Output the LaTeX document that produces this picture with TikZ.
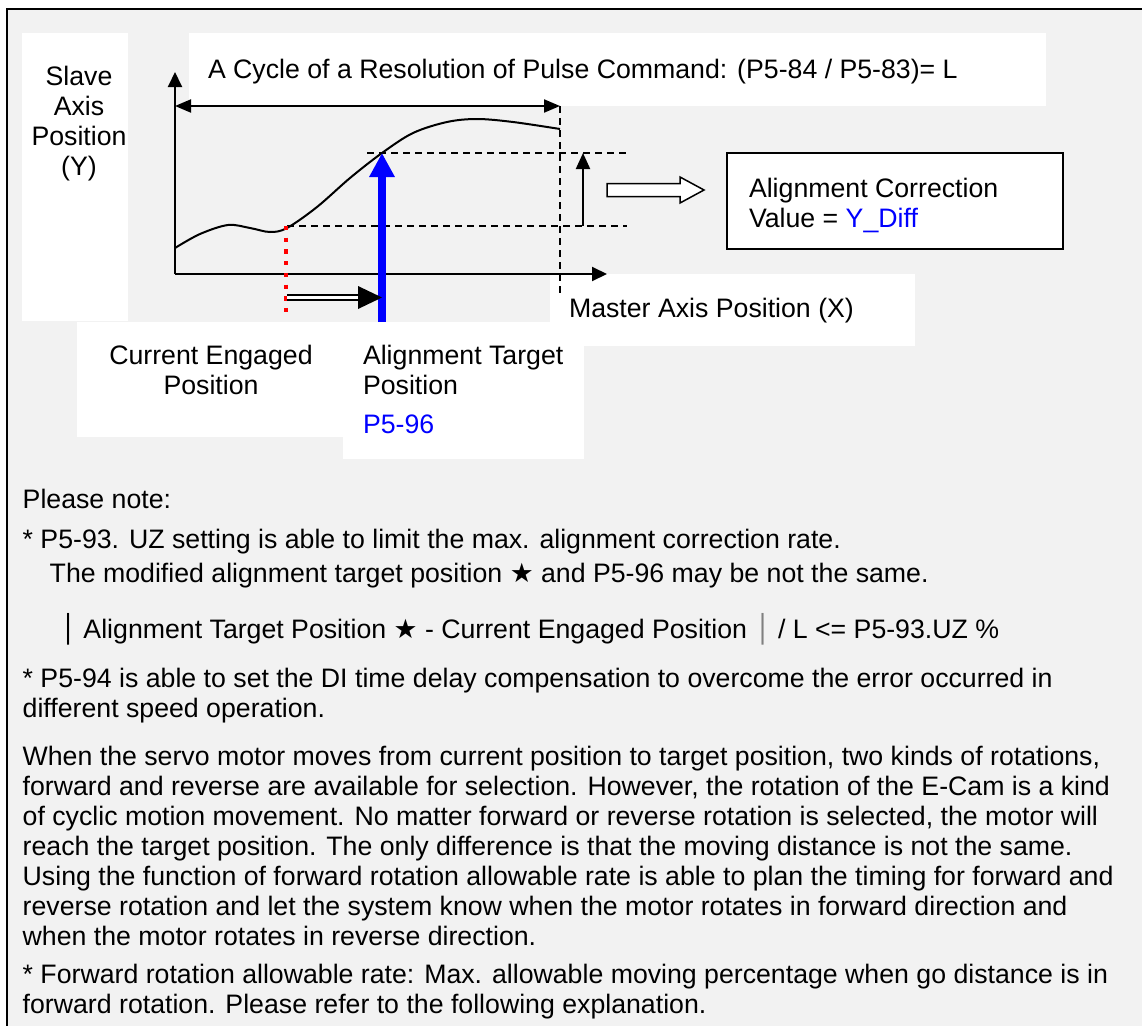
\documentclass[tikz,border=0pt]{standalone}
\usepackage{fontspec}
\setmainfont{Liberation Sans}
\newfontfamily\symfont{DejaVu Sans}
\usetikzlibrary{arrows.meta}
\definecolor{bggray}{HTML}{F2F2F2}
\definecolor{pblue}{HTML}{0000FF}
\definecolor{pred}{HTML}{FF0000}
\definecolor{bargray}{HTML}{808080}
\begin{document}
\begin{tikzpicture}[x=1pt,y=-1pt,
  txt/.style={font=\fontsize{26.7}{30}\selectfont, inner sep=0pt, outer sep=0pt},
  whitebox/.style={fill=white},
  axis/.style={line width=2pt, -{Triangle[length=15pt,width=14pt]}},
  dashline/.style={line width=1.6pt, dash pattern=on 7pt off 5pt},
]
\useasboundingbox (0,0) rectangle (1142,1025);
\clip (0,0) rectangle (1142,1025);
\fill[white] (0,0) rectangle (1142,1025);
% frame
\fill[bggray] (7,9) rectangle (1200,1100);
\draw[line width=2.5pt] (7,1100) -- (7,9) -- (1200,9);
% white label boxes
\fill[whitebox] (22,33) rectangle (128,321);
\fill[whitebox] (189,33) rectangle (1046,106);
\fill[whitebox] (550,274) rectangle (915,346);
\fill[whitebox] (77,322) rectangle (343,437);
\fill[whitebox] (343,322) rectangle (584,459);
% coordinates
\coordinate (O) at (175,274);
\coordinate (Ytip) at (175,72);
\coordinate (Xtip) at (607,274);
\coordinate (cycL) at (175,106);
\coordinate (cycR) at (560,106);
\coordinate (vdB) at (560,293);
\coordinate (upL) at (367,153);
\coordinate (upR) at (627,153);
\coordinate (loL) at (287,226);
\coordinate (loR) at (627,226);
\coordinate (redT) at (286,226);
\coordinate (redB) at (286,317);
\coordinate (blueB) at (382,322);
\coordinate (blueT) at (382,153);
\coordinate (dblL) at (287,297.5);
\coordinate (dblR) at (382,297.5);
\coordinate (smB) at (583,226);
\coordinate (smT) at (583,153);
% axes
\draw[axis] (O) -- (Ytip);
\draw[axis] (O) -- (Xtip);
\draw[line width=2pt, {Triangle[length=16pt,width=13pt]}-{Triangle[length=16pt,width=13pt]}] (cycL) -- (cycR);
\draw[line width=1.4pt, dash pattern=on 7pt off 5pt] (cycR) -- (vdB);
% dashed levels
\draw[dashline] (upL) -- (upR);
\draw[dashline] (loL) -- (loR);
% curve
\draw[line width=2pt] plot[smooth, tension=0.55] coordinates {(175,248) (200,234) (228,225) (250,228) (270,232) (287,228) (317,207) (350,178) (382,153) (413,133) (447,122) (477,119) (513,122) (560,129)};
% red dotted
\draw[pred, line width=4.5pt, dash pattern=on 4.3pt off 7.4pt] (redT) -- (redB);
% blue arrow
\draw[pblue, line width=8pt, -{Triangle[length=24pt,width=24pt]}] (blueB) -- (blueT);
% double arrow
\draw[line width=2pt, double=white, double distance=3pt] (dblL) -- ([xshift=-20pt]dblR);
\fill (358,286) -- (dblR) -- (358,309) -- cycle;
% small arrow
\draw[line width=2pt, -{Triangle[length=16pt,width=14pt]}] (smB) -- (smT);
% hollow block arrow
\draw[line width=1.5pt, fill=white] (607,183.5) -- (680,183.5) -- (680,177) -- (704,190) -- (680,203) -- (680,196.5) -- (607,196.5) -- cycle;
% correction box
\node[draw, line width=2pt, fill=white, minimum width=336pt, minimum height=96pt, inner sep=0pt] (corrbox) at (895,201) {};
\node[txt, anchor=base west, align=left] (corr) at (749,227) {Alignment Correction\\Value = \textcolor{pblue}{Y\_Diff}};
% labels (base anchor = baseline of the last line)
\node[txt, anchor=base, align=center] (slave) at (79,175) {Slave\\Axis\\Position\\(Y)};
\node[txt, anchor=base west] (title) at (208,78) {A Cycle of a Resolution of Pulse Command: (P5-84 / P5-83)= L};
\node[txt, anchor=base west] (master) at (569,317) {Master Axis Position (X)};
\node[txt, anchor=base, align=center] (cur) at (211,394) {Current Engaged\\Position};
\node[txt, anchor=base west, align=left] (tgt) at (363,394) {Alignment Target\\Position};
\node[txt, anchor=base west, text=pblue] (p596) at (363,433) {P5-96};
% body text
\node[txt, anchor=base west] (note) at (22.7,508) {Please note:};
\node[txt, anchor=base west, align=left, font=\fontsize{26.7}{34}\selectfont] (n1) at (22.7,582) {* P5-93. UZ setting is able to limit the max. alignment correction rate.\\\hspace*{27pt}The modified alignment target position {\symfont ★} and P5-96 may be not the same.};
\node[txt, anchor=base west] (formula) at (60,638) {{\symfont │} Alignment Target Position {\symfont ★} - Current Engaged Position {\color{bargray}\symfont │} / L <= P5-93.UZ \%};
\node[txt, anchor=base west, align=left] (n2) at (22.7,717) {* P5-94 is able to set the DI time delay compensation to overcome the error occurred in\\different speed operation.};
\node[txt, anchor=base west, align=left] (n3) at (22.7,945) {When the servo motor moves from current position to target position, two kinds of rotations,\\forward and reverse are available for selection. However, the rotation of the E-Cam is a kind\\of cyclic motion movement. No matter forward or reverse rotation is selected, the motor will\\reach the target position. The only difference is that the moving distance is not the same.\\Using the function of forward rotation allowable rate is able to plan the timing for forward and\\reverse rotation and let the system know when the motor rotates in forward direction and\\when the motor rotates in reverse direction.};
\node[txt, anchor=base west, align=left] (n4) at (22.7,1013) {* Forward rotation allowable rate: Max. allowable moving percentage when go distance is in\\forward rotation. Please refer to the following explanation.};
\end{tikzpicture}
\end{document}
